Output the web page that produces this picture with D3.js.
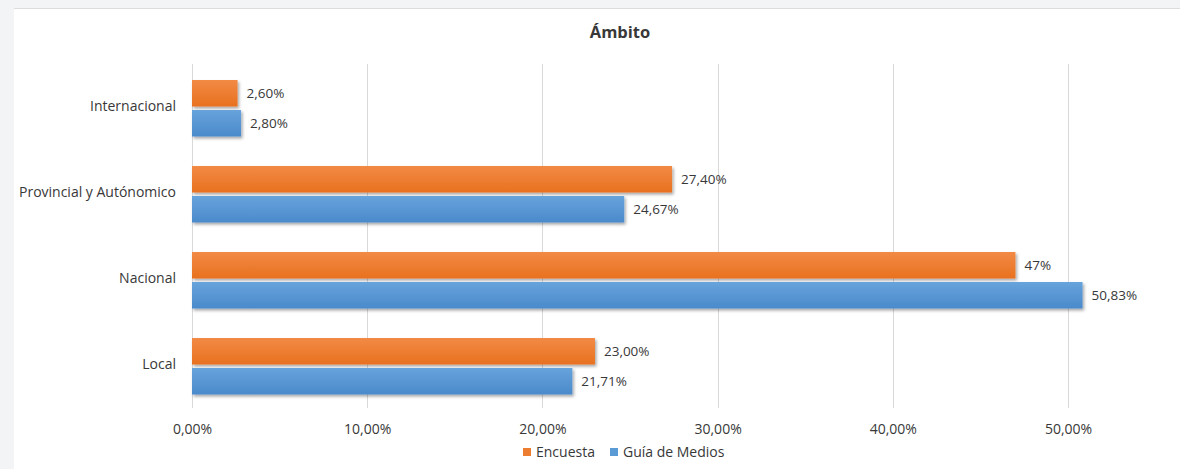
<!DOCTYPE html>
<html>
<head>
<meta charset="utf-8">
<script src="https://cdn.jsdelivr.net/npm/d3@7"></script>
<style>
  html, body { margin: 0; padding: 0; background: #f3f4f6; }
  svg { display: block; }
  text { font-family: "Open Sans", "Noto Sans", sans-serif; fill: #383838; }
</style>
</head>
<body>
<svg id="chart" width="1180" height="469"></svg>
<script>
// Categories, listed top to bottom
const categories = ["Internacional", "Provincial y Autónomico", "Nacional", "Local"];
// Series values (percent)
const encuesta = [2.60, 27.40, 47.00, 23.00];
const guiaMedios = [2.80, 24.67, 50.83, 21.71];
// Value labels as printed
const encuestaLabels = ["2,60%", "27,40%", "47%", "23,00%"];
const guiaLabels = ["2,80%", "24,67%", "50,83%", "21,71%"];
// Axis ticks
const xTicks = [0, 10, 20, 30, 40, 50];
const seriesNames = ["Encuesta", "Guía de Medios"];

const svg = d3.select("#chart");
const W = 1180, H = 469;
const FS = 13.5;

// Panel background
svg.append("rect").attr("x", 0).attr("y", 0).attr("width", W).attr("height", H).attr("fill", "#f3f4f6");
svg.append("rect").attr("x", 14).attr("y", 9).attr("width", W - 14).attr("height", H - 9).attr("fill", "#ffffff");
svg.append("line").attr("x1", 14).attr("x2", W).attr("y1", 8.5).attr("y2", 8.5).attr("stroke", "#dcdcdc");

const defs = svg.append("defs");
function grad(id, top, bottom) {
  const g = defs.append("linearGradient").attr("id", id).attr("x1", 0).attr("y1", 0).attr("x2", 0).attr("y2", 1);
  g.append("stop").attr("offset", "0%").attr("stop-color", top);
  g.append("stop").attr("offset", "100%").attr("stop-color", bottom);
}
grad("gOrange", "#f28a45", "#e8711f");
grad("gBlue", "#67a3dc", "#4a8acb");
const f = defs.append("filter").attr("id", "shadow").attr("x", "-5%").attr("y", "-20%").attr("width", "115%").attr("height", "160%");
f.append("feDropShadow").attr("dx", 1.5).attr("dy", 2).attr("stdDeviation", 1.5).attr("flood-color", "#000").attr("flood-opacity", 0.35);

const x = d3.scaleLinear().domain([0, 50]).range([192, 1068]);
const y = d3.scaleBand().domain(categories).range([64, 408]).paddingInner(0).paddingOuter(0);

// Gridlines
svg.append("g").selectAll("line").data(xTicks).join("line")
  .attr("x1", d => Math.round(x(d)) + 0.5).attr("x2", d => Math.round(x(d)) + 0.5)
  .attr("y1", 64).attr("y2", 408)
  .attr("stroke", "#d9d9d9").attr("stroke-width", 1);

// X axis tick labels
const fmt = d => d.toFixed(2).replace(".", ",") + "%";
const xAxis = d3.axisBottom(x).tickValues(xTicks).tickFormat(fmt).tickSize(0).tickPadding(0);
const gx = svg.append("g").attr("transform", "translate(0,429)").call(xAxis);
gx.select(".domain").remove();
gx.selectAll("text").attr("font-size", 14).attr("fill", "#383838").attr("dy", "0.35em")
  .style("font-family", "'Open Sans', 'Noto Sans', sans-serif");

// Category labels
const yAxis = d3.axisLeft(y).tickSize(0).tickPadding(16);
const gy = svg.append("g").attr("transform", "translate(192,0)").call(yAxis);
gy.select(".domain").remove();
gy.selectAll("text").attr("font-size", 14).attr("fill", "#383838")
  .style("font-family", "'Open Sans', 'Noto Sans', sans-serif");

const barH = 26.5;
const off1 = 16, off2 = 46;  // offsets of the two bars inside each band

const rows = categories.map((c, i) => ({ c, e: encuesta[i], g: guiaMedios[i], el: encuestaLabels[i], gl: guiaLabels[i] }));

// Encuesta bars
svg.append("g").selectAll("rect").data(rows).join("rect")
  .attr("x", x(0)).attr("y", d => y(d.c) + off1)
  .attr("width", d => x(d.e) - x(0)).attr("height", barH)
  .attr("fill", "url(#gOrange)").attr("filter", "url(#shadow)");
// Guía de Medios bars
svg.append("g").selectAll("rect").data(rows).join("rect")
  .attr("x", x(0)).attr("y", d => y(d.c) + off2)
  .attr("width", d => x(d.g) - x(0)).attr("height", barH)
  .attr("fill", "url(#gBlue)").attr("filter", "url(#shadow)");

// Value labels
svg.append("g").selectAll("text").data(rows).join("text")
  .attr("x", d => x(d.e) + 9).attr("y", d => y(d.c) + off1 + barH / 2)
  .attr("dy", "0.35em").attr("font-size", FS).text(d => d.el);
svg.append("g").selectAll("text").data(rows).join("text")
  .attr("x", d => x(d.g) + 9).attr("y", d => y(d.c) + off2 + barH / 2)
  .attr("dy", "0.35em").attr("font-size", FS).text(d => d.gl);

// Title
svg.append("text").attr("x", 620).attr("y", 38).attr("text-anchor", "middle")
  .attr("font-size", 16.5).attr("font-weight", "bold").attr("fill", "#111111").text("Ámbito");

// Legend
const legend = svg.append("g").attr("transform", "translate(0,452)");
const legendColors = ["#ed7d31", "#5b9bd5"];
const legendX = [523, 610];
seriesNames.forEach((n, i) => {
  legend.append("rect").attr("x", legendX[i]).attr("y", -4).attr("width", 8).attr("height", 8).attr("fill", legendColors[i]);
  legend.append("text").attr("x", legendX[i] + 13).attr("y", 0).attr("dy", "0.35em").attr("font-size", 14).text(n);
});
</script>
</body>
</html>
